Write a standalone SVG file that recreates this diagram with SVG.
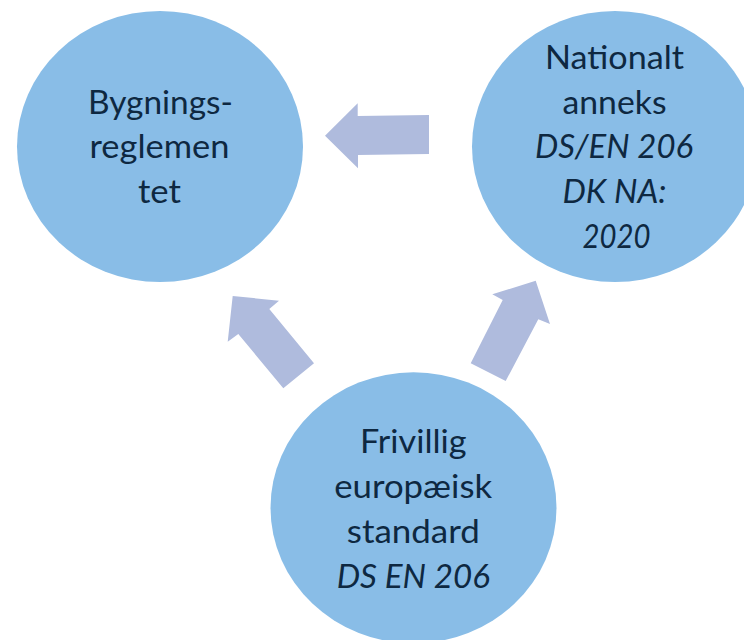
<svg xmlns="http://www.w3.org/2000/svg" width="744" height="640" viewBox="0 0 744 640">
<style>
.node{fill:#89BDE7}
.arrow{fill:#AFBBDD}
text{font-family:Lato,"Open Sans","Liberation Sans",sans-serif;font-size:32px;fill:#0E2841;text-anchor:middle}
.it{font-style:italic}
</style>
<rect width="744" height="640" fill="#FFFFFF"/>
<g id="connectors">
<polygon class="arrow" points="325,135.7 357.7,103.3 357.7,116 429,115 429,154 358,155 358,168.3"/>
<polygon class="arrow" points="232.7,296 279,300.7 269.3,309 314,363.3 283.3,388.3 238.3,334 227.7,341.7"/>
<polygon class="arrow" points="535.7,280.7 550,324 538.3,319.3 505.7,381 470.7,363.3 502.7,300 492.3,294.3"/>
</g>
<g id="node-bygningsreglementet">
<ellipse class="node" cx="160" cy="146.5" rx="143" ry="135.5"/>
<text x="160.5" y="113.5" textLength="145" lengthAdjust="spacingAndGlyphs">Bygnings-</text>
<text x="159.5" y="158.3" textLength="140" lengthAdjust="spacingAndGlyphs">reglemen</text>
<text x="159.5" y="203.3" textLength="43" lengthAdjust="spacingAndGlyphs">tet</text>
</g>
<g id="node-nationalt-anneks">
<ellipse class="node" cx="615" cy="146.5" rx="143" ry="135.5"/>
<text x="614.5" y="68.5" textLength="139" lengthAdjust="spacingAndGlyphs">Nationalt</text>
<text x="614.5" y="113.5" textLength="104" lengthAdjust="spacingAndGlyphs">anneks</text>
<text class="it" x="614" y="158.3" textLength="158" lengthAdjust="spacingAndGlyphs">DS/EN 206</text>
<text class="it" x="614.5" y="203.3" textLength="104" lengthAdjust="spacingAndGlyphs">DK NA:</text>
<text class="it" x="616.5" y="248" textLength="68" lengthAdjust="spacingAndGlyphs">2020</text>
</g>
<g id="node-frivillig-standard">
<ellipse class="node" cx="413.5" cy="507.8" rx="143" ry="135.5"/>
<text x="413.3" y="452.5" textLength="106.7" lengthAdjust="spacingAndGlyphs">Frivillig</text>
<text x="413.2" y="497.5" textLength="158" lengthAdjust="spacingAndGlyphs">europæisk</text>
<text x="413.3" y="542.8" textLength="133" lengthAdjust="spacingAndGlyphs">standard</text>
<text class="it" x="413.3" y="587.6" textLength="153" lengthAdjust="spacingAndGlyphs">DS EN 206</text>
</g>
</svg>
